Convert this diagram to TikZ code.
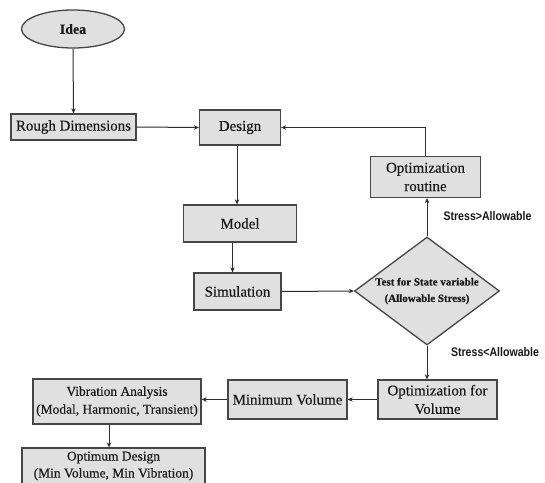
\documentclass[tikz,border=0pt]{standalone}
\usepackage{fontspec}
\setmainfont{Liberation Serif}[FakeBold=0.4]
\newfontfamily\labfont[FakeStretch=0.85]{Liberation Sans}
\usetikzlibrary{shapes.geometric,arrows.meta,calc}
\definecolor{boxfill}{RGB}{224,224,224}
\definecolor{boxline}{RGB}{70,70,70}
\definecolor{arrcol}{RGB}{45,45,45}
\definecolor{txt}{RGB}{25,25,25}
\tikzset{
  stepbox/.style={draw=boxline, fill=boxfill, line width=1.3bp, rectangle, inner sep=0pt, align=center, text=txt, font=\fontsize{15}{18.5}\selectfont},
  smallbox/.style={stepbox, font=\fontsize{13.5}{18}\selectfont},
  arr/.style={draw=arrcol, line width=1bp, -{Stealth[length=5bp,width=4.5bp]}},
  lab/.style={text=txt, font=\labfont\bfseries\fontsize{12.5}{14}\selectfont, inner sep=0pt}
}
\begin{document}
\begin{tikzpicture}[x=1bp,y=-1bp]
\useasboundingbox[fill=white] (0,0) rectangle (545,483);
\node[ellipse, draw=boxline, fill=boxfill, line width=1.3bp, minimum width=103bp, minimum height=38bp, inner sep=0pt, text=txt, font=\bfseries\fontsize{14}{18}\selectfont] (idea) at (73,29) {Idea};
\node[stepbox, minimum width=125bp, minimum height=26bp] (rough) at (73.5,127) {Rough Dimensions};
\node[stepbox, minimum width=81bp, minimum height=35bp] (design) at (240,127.5) {Design};
\node[stepbox, minimum width=113bp, minimum height=37bp] (model) at (240,223.5) {Model};
\node[stepbox, minimum width=87bp, minimum height=37bp] (sim) at (237.5,291.5) {Simulation};
\node[diamond, draw=boxline, fill=boxfill, line width=1.3bp, minimum width=145bp, minimum height=108bp, inner sep=0pt, aspect=1.34, align=center, text=txt, font=\bfseries\fontsize{11}{16.5}\selectfont] (test) at (427,291) {Test for State variable\\(Allowable Stress)};
\node[stepbox, minimum width=110bp, minimum height=41bp] (optr) at (425.5,177) {Optimization\\routine};
\node[stepbox, minimum width=119bp, minimum height=39bp] (optv) at (437.5,399.5) {Optimization for\\Volume};
\node[stepbox, minimum width=119bp, minimum height=39bp] (minv) at (287.5,399.5) {Minimum Volume};
\node[smallbox, minimum width=168bp, minimum height=45bp] (vib) at (117,401.5) {Vibration Analysis\\(Modal, Harmonic, Transient)};
\node[smallbox, font=\fontsize{13.5}{17}\selectfont, minimum width=183bp, minimum height=36bp] (optd) at (113.5,466) {Optimum Design\\(Min Volume, Min Vibration)};
\node[lab] (gt) at (487.5,216) {Stress>Allowable};
\node[lab] (lt) at (495,352) {Stress<Allowable};
\draw[arr] (idea.south) -- (rough.north);
\draw[arr] (rough.east) -- (design.west);
\draw[arr] ([xshift=-3bp]design.south) -- ([xshift=-3bp]design.south |- model.north);
\draw[arr] ([xshift=-5bp]sim.north |- model.south) -- ([xshift=-5bp]sim.north);
\draw[arr] (sim.east) -- (test.west);
\draw[arr] (test.north) -- (test.north |- optr.south);
\draw[arr] (optr.north) |- (design.east);
\draw[arr] (test.south) -- (test.south |- optv.north);
\draw[arr] (optv.west) -- (minv.east);
\draw[arr] (minv.west) -- (minv.west -| vib.east);
\draw[arr] ([xshift=-8bp]vib.south) -- ([xshift=-8bp]vib.south |- optd.north);
\end{tikzpicture}
\end{document}
